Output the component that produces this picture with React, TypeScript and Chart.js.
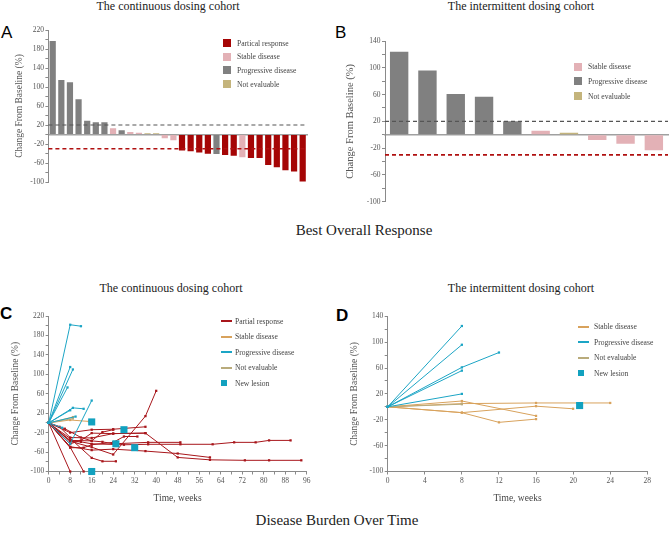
import React, { useEffect, useRef } from 'react';
import { Chart, registerables } from 'chart.js';
Chart.register(...registerables);

const SERIF = '"Liberation Serif", "Times New Roman", serif';
const SANS = '"Liberation Sans", Arial, sans-serif';

// ---------- colours ----------
const BAR_COLORS: Record<string, string> = { PR: '#a50505', SD: '#e3b1b6', PD: '#808080', NE: '#c4b47c' };
const LINE_COLORS: Record<string, string> = { PR: '#a8161b', SD: '#d8a25c', PD: '#1ca5c5', NE: '#b9ab7b' };
const NEW_LESION = '#12a1bf';

// ---------- Panel A: continuous dosing, best overall response ----------
const aPatients = 'P1 P2 P3 P4 P5 P6 P7 P8 P9 P10 P11 P12 P13 P14 P15 P16 P17 P18 P19 P20 P21 P22 P23 P24 P25 P26 P27 P28 P29 P30'.split(' ');
const aChange = [197, 115, 110, 74, 29, 26, 26, 13, 9, 5.5, 3.5, 2.8, 2.8, -7.7, -12, -33.5, -35, -37.7, -40.5, -41, -43, -44.7, -48, -49.6, -49.6, -64, -69, -75, -78, -99];
const aResponse = ['PD', 'PD', 'PD', 'PD', 'PD', 'PD', 'PD', 'SD', 'PD', 'SD', 'SD', 'NE', 'NE', 'SD', 'SD', 'PR', 'PR', 'PR', 'PR', 'PD', 'PR', 'PR', 'SD', 'PR', 'PR', 'PR', 'PR', 'PR', 'PR', 'PR'];

// ---------- Panel B: intermittent dosing, best overall response ----------
const bPatients = 'Q1 Q2 Q3 Q4 Q5 Q6 Q7 Q8 Q9 Q10'.split(' ');
const bChange = [124, 96, 61, 56.6, 20, 6, 3, -8, -13.4, -23.3];
const bResponse = ['PD', 'PD', 'PD', 'PD', 'PD', 'SD', 'NE', 'SD', 'SD', 'SD'];

// ---------- Panel C: continuous dosing, burden over time [week, % change] ----------
const cPR: number[][][] = [
  [[0, 0], [8, -100]],
  [[0, 0], [8, -50], [13, -100]],
  [[0, 0], [8, -32], [16, -72], [20, -79], [25, -79]],
  [[0, 0], [8, -38], [16, -50], [24, -65], [36, 14], [40, 66]],
  [[0, 0], [8, -20], [16, -14], [24, -13], [36, -8]],
  [[0, 0], [8, -43], [12, -36], [16, -21], [24, -22], [36, -21], [48, -71], [60, -76], [73, -77], [82, -77], [94, -77]],
  [[0, 0], [8, -49], [16, -56], [24, -54], [36, -58], [48, -63], [60, -71]],
  [[0, 0], [8, -36], [16, -37], [20, -39], [24, -43], [37, -40], [49, -40]],
  [[0, 0], [8, -38], [12, -39], [16, -43], [28, -45], [37, -44], [49, -44], [61, -44], [69, -40], [77, -40], [82, -36], [90, -36]],
  [[0, 0], [6, -12], [12, -30], [16, -37], [20, -19], [24, -14]],
  [[0, 0], [8, -51], [13, -51], [16, -45], [24, -40], [28, -28], [33, -28]],
  [[0, 0], [4, -8], [8, -30], [16, -31], [24, -22], [36, -21]],
];
const cSD: number[][][] = [
  [[0, 0], [9, 12]],
  [[0, 0], [8, 6], [15, 3]],
];
const cPD: number[][][] = [
  [[0, 0], [8, 202], [12, 199]],
  [[0, 0], [8, 115]],
  [[0, 0], [9, 110]],
  [[0, 0], [7, 73]],
  [[0, 0], [9, 31], [13, 29]],
  [[0, 0], [8, 26]],
  [[0, 0], [8, -43], [16, 46]],
  [[0, 0], [10, 13]],
  [[0, 0], [5, -10]],
];
const cNE: number[][][] = [
  [[0, 0], [9, 9]],
];
const cNewLesion: number[][] = [[16, 2], [16, -100], [28, -14], [25, -43], [32, -51]];

// ---------- Panel D: intermittent dosing, burden over time ----------
const dSD: number[][][] = [
  [[0, 0], [8, 5], [16, 6], [24, 6]],
  [[0, 0], [8, 9], [16, -14]],
  [[0, 0], [8, -9], [12, -24], [16, -19]],
  [[0, 0], [8, -9], [16, 1], [20, -3]],
];
const dPD: number[][][] = [
  [[0, 0], [8, 125]],
  [[0, 0], [8, 96]],
  [[0, 0], [8, 61], [12, 84]],
  [[0, 0], [8, 56]],
  [[0, 0], [8, 20]],
];
const dNE: number[][][] = [
  [[0, 0], [8, 4]],
];
const dNewLesion: number[][] = [[20.7, 2]];

// ---------- tick labels ----------
const yTicksAC = [-100, -60, -20, 20, 60, 100, 140, 180, 220];
const yTicksBD = [-100, -60, -20, 20, 60, 100, 140];
const xTicksC = [0, 8, 16, 24, 32, 40, 48, 56, 64, 72, 80, 88, 96];
const xTicksD = [0, 4, 8, 12, 16, 20, 24, 28];

const refLinePlugin = {
  id: 'refLines',
  afterDatasetsDraw(chart: any, _a: any, opts: any) {
    const lines = (opts && opts.lines) || [];
    const { ctx, chartArea, scales } = chart;
    lines.forEach((l: any) => {
      const y = scales.y.getPixelForValue(l.value);
      ctx.save();
      ctx.strokeStyle = l.color;
      ctx.lineWidth = l.width;
      ctx.setLineDash(l.dash);
      ctx.beginPath();
      ctx.moveTo(chartArea.left, y);
      ctx.lineTo(chartArea.right, y);
      ctx.stroke();
      ctx.restore();
    });
  },
};

function yAxis(min: number, max: number, labels: number[], width: number, titleSize: number, titlePad: number) {
  return {
    min, max,
    ticks: {
      stepSize: 20, autoSkip: false, padding: 1.5, color: '#555',
      font: { family: SERIF, size: 7.5 },
      callback: (v: any) => (labels.includes(Number(v)) ? String(v) : ''),
    },
    grid: { drawOnChartArea: false, tickLength: 3, color: '#8a8a8a' },
    border: { color: '#8a8a8a', width: 1 },
    title: {
      display: true, text: 'Change From Baseline (%)', color: '#555',
      font: { family: SERIF, size: titleSize }, padding: { top: titlePad, bottom: 0 },
    },
    afterFit: (s: any) => { s.width = width; },
  };
}

function barConfig(labels: string[], values: number[], resp: string[], barPct: number, pad: any, yW: number, titleSize: number, titlePad: number, yMin: number, yMax: number, yLabels: number[]) {
  return {
    type: 'bar',
    data: {
      labels,
      datasets: [{
        data: values,
        backgroundColor: resp.map((r) => BAR_COLORS[r]),
        barPercentage: barPct,
        categoryPercentage: 1,
      }],
    },
    plugins: [refLinePlugin],
    options: {
      responsive: false, animation: false,
      layout: { padding: pad },
      plugins: {
        legend: { display: false }, tooltip: { enabled: false },
        refLines: {
          lines: [
            { value: 20, color: '#555', width: 1.2, dash: [4, 3] },
            { value: -30, color: '#b01010', width: 1.6, dash: [4, 3] },
          ],
        },
      },
      scales: {
        x: {
          position: { y: 0 },
          grid: { display: false },
          ticks: { display: false },
          border: { color: '#a0a0a0', width: 1.6 },
        },
        y: yAxis(yMin, yMax, yLabels, yW, titleSize, titlePad),
      },
    },
  };
}

function lineDatasets(groups: [number[][][], string][], lesions: number[][]) {
  const ds: any[] = [{
    data: lesions.map(([x, y]) => ({ x, y })),
    showLine: false, pointStyle: 'rect', pointRadius: 5, pointBackgroundColor: NEW_LESION,
    pointBorderColor: NEW_LESION, pointBorderWidth: 0, order: 0, clip: false,
  }];
  groups.forEach(([trajs, key]) => {
    trajs.forEach((t) => {
      ds.push({
        data: t.map(([x, y]) => ({ x, y })),
        showLine: true, borderColor: LINE_COLORS[key], borderWidth: 1,
        pointStyle: 'rect', pointRadius: 1.6, pointBackgroundColor: LINE_COLORS[key],
        pointBorderColor: LINE_COLORS[key], pointBorderWidth: 0, order: 1, clip: false,
      });
    });
  });
  return ds;
}

function lineConfig(datasets: any[], xMax: number, xStep: number, xLabels: number[], yMin: number, yMax: number, yLabels: number[], pad: any, yW: number, titlePad: number) {
  return {
    type: 'scatter',
    data: { datasets },
    options: {
      responsive: false, animation: false,
      layout: { padding: pad },
      plugins: { legend: { display: false }, tooltip: { enabled: false } },
      scales: {
        x: {
          type: 'linear', min: 0, max: xMax,
          ticks: {
            stepSize: xStep, autoSkip: false, padding: 2, color: '#555', maxRotation: 0,
            font: { family: SERIF, size: 7.5 },
            callback: (v: any) => (xLabels.includes(Number(v)) ? String(v) : ''),
          },
          grid: { drawOnChartArea: false, tickLength: 3, color: '#8a8a8a' },
          border: { color: '#8a8a8a', width: 1 },
          title: {
            display: true, text: 'Time, weeks', color: '#444',
            font: { family: SERIF, size: 9.5 }, padding: { top: 0, bottom: 6 },
          },
          afterFit: (s: any) => { s.height = 38.5; },
        },
        y: yAxis(yMin, yMax, yLabels, yW, 9.5, titlePad),
      },
    },
  };
}

function ChartCanvas({ left, top, width, height, config }: any) {
  const ref = useRef<HTMLCanvasElement>(null);
  useEffect(() => {
    const chart = new Chart(ref.current as HTMLCanvasElement, config());
    return () => chart.destroy();
  }, []);
  return (
    <canvas ref={ref} width={width} height={height}
      style={{ position: 'absolute', left, top, width, height }} />
  );
}

function Text({ x, y, w, size, children, family = SERIF, weight = 400, align = 'center', color = '#222' }: any) {
  return (
    <div style={{
      position: 'absolute', left: x, top: y, width: w, textAlign: align, fontFamily: family,
      fontSize: size, fontWeight: weight, color, lineHeight: `${Math.round(size * 1.2)}px`, whiteSpace: 'nowrap',
    }}>{children}</div>
  );
}

function Legend({ x, y, gap, items }: any) {
  return (
    <div style={{ position: 'absolute', left: x, top: y }}>
      {items.map((it: any, i: number) => (
        <div key={i} style={{ position: 'absolute', left: 0, top: i * gap - 6, height: 12, display: 'flex', alignItems: 'center', whiteSpace: 'nowrap' }}>
          <div style={{ width: 14, display: 'flex', alignItems: 'center' }}>
            {it.kind === 'square' && <div style={{ width: it.size || 8, height: it.size || 8, background: it.color }} />}
            {it.kind === 'line' && <div style={{ width: 11, height: 2, background: it.color }} />}
          </div>
          <span style={{ fontFamily: SERIF, fontSize: 7.6, color: '#444', marginLeft: it.textGap || 0 }}>{it.label}</span>
        </div>
      ))}
    </div>
  );
}

export default function App() {
  return (
    <div style={{ position: 'absolute', left: 0, top: 0, width: 669, height: 533, background: '#fff', overflow: 'hidden' }}>
      {/* Titles */}
      <Text x={18} y={-1} w={300} size={12}>The continuous dosing cohort</Text>
      <Text x={371} y={-1} w={300} size={12}>The intermittent dosing cohort</Text>
      <Text x={21} y={281} w={300} size={12}>The continuous dosing cohort</Text>
      <Text x={371} y={281} w={300} size={12}>The intermittent dosing cohort</Text>
      <Text x={214} y={221} w={300} size={15}>Best Overall Response</Text>
      <Text x={187} y={511} w={300} size={15}>Disease Burden Over Time</Text>
      <Text x={1} y={23} w={20} size={17} family={SANS} align="left" color="#000">A</Text>
      <Text x={335} y={23} w={20} size={17} family={SANS} align="left" color="#000">B</Text>
      <Text x={0} y={304} w={20} size={17} family={SANS} weight={700} align="left" color="#000">C</Text>
      <Text x={336} y={306} w={20} size={17} family={SANS} weight={700} align="left" color="#000">D</Text>

      <ChartCanvas left={0} top={20} width={315} height={170}
        config={() => barConfig(aPatients, aChange, aResponse, 0.72, { top: 10, right: 8, bottom: 8, left: 0 }, 48.4, 9.5, 14, -100, 220, yTicksAC)} />
      <ChartCanvas left={335} top={20} width={334} height={190}
        config={() => barConfig(bPatients, bChange, bResponse, 0.65, { top: 21, right: 1, bottom: 8.3, left: 0 }, 50, 10.5, 9, -100, 140, yTicksBD)} />
      <ChartCanvas left={0} top={300} width={320} height={210}
        config={() => lineConfig(lineDatasets([[cPD, 'PD'], [cNE, 'NE'], [cSD, 'SD'], [cPR, 'PR']], cNewLesion), 96, 4, xTicksC, -100, 220, yTicksAC, { top: 16, right: 13.3, bottom: 0, left: 0 }, 48.7, 10)} />
      <ChartCanvas left={335} top={300} width={334} height={210}
        config={() => lineConfig(lineDatasets([[dPD, 'PD'], [dNE, 'NE'], [dSD, 'SD']], dNewLesion), 28, 4, xTicksD, -100, 140, yTicksBD, { top: 16.3, right: 21.7, bottom: 0, left: 0 }, 52.7, 14)} />

      <Legend x={223} y={43.3} gap={13.6} items={[
        { kind: 'square', color: BAR_COLORS.PR, label: 'Partical response' },
        { kind: 'square', color: BAR_COLORS.SD, label: 'Stable disease' },
        { kind: 'square', color: BAR_COLORS.PD, label: 'Progressive disease' },
        { kind: 'square', color: BAR_COLORS.NE, label: 'Not evaluable' },
      ]} />
      <Legend x={574} y={66.7} gap={14.8} items={[
        { kind: 'square', color: BAR_COLORS.SD, label: 'Stable disease', size: 8 },
        { kind: 'square', color: BAR_COLORS.PD, label: 'Progressive disease', size: 8 },
        { kind: 'square', color: BAR_COLORS.NE, label: 'Not evaluable', size: 8 },
      ]} />
      <Legend x={221} y={321} gap={15.6} items={[
        { kind: 'line', color: LINE_COLORS.PR, label: 'Partial response' },
        { kind: 'line', color: LINE_COLORS.SD, label: 'Stable disease' },
        { kind: 'line', color: LINE_COLORS.PD, label: 'Progressive disease' },
        { kind: 'line', color: LINE_COLORS.NE, label: 'Not evaluable' },
        { kind: 'square', color: NEW_LESION, label: 'New lesion', size: 6 },
      ]} />
      <Legend x={578} y={326.7} gap={15.5} items={[
        { kind: 'line', color: LINE_COLORS.SD, label: 'Stable disease', textGap: 2 },
        { kind: 'line', color: LINE_COLORS.PD, label: 'Progressive disease', textGap: 2 },
        { kind: 'line', color: LINE_COLORS.NE, label: 'Not evaluable', textGap: 2 },
        { kind: 'square', color: NEW_LESION, label: 'New lesion', size: 6, textGap: 2 },
      ]} />
    </div>
  );
}
